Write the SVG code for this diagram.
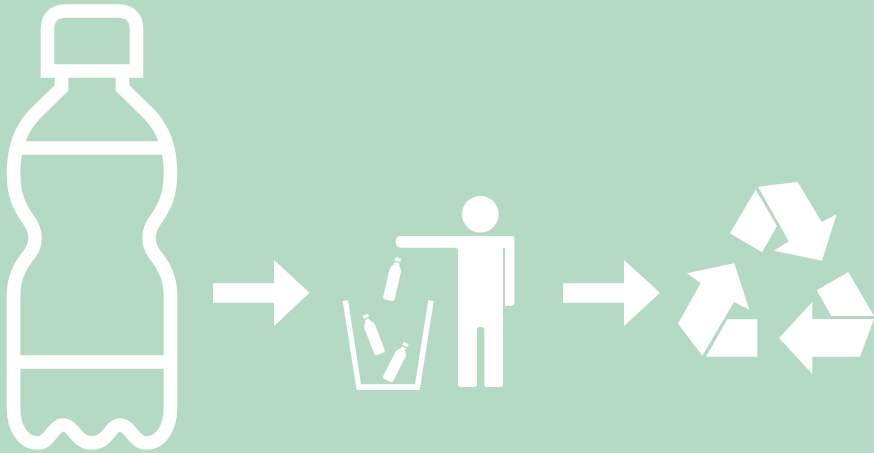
<svg xmlns="http://www.w3.org/2000/svg" width="874" height="453" viewBox="0 0 874 453">
<style>.s{fill:none;stroke:#fff;stroke-width:13.6}.f{fill:#fff}</style>
<defs><g id="b" class="f"><rect x="-2.8" y="-21" width="5.6" height="3.4" rx=".6"/><path d="M-2.2-16H2.2L2.6-13.5C5-11.5 5.6-9.5 5.6-7V18.5Q5.6 21 3 21H-3Q-5.6 21-5.6 18.5V-7C-5.6-9.5-5-11.5-2.6-13.5Z"/></g></defs>
<rect width="874" height="453" fill="#b5dac4"/>
<g id="bottle">
<path class="s" d="M61.5 71V88L34 115C20 130 13.5 150 13.5 173C13.5 196 20 208 28 219C33 226 35 231 35 238C35 245 33 250 28 256C19 267 13.5 279 13.5 295V408C13.5 428 23 443 38 443C50 443 53 425 63 425C74 425 76 443 92 443C108 443 110 425 120 425C130 425 134 443 146 443C161 443 170.500 428 170.500 408V295C170.500 279 165 267 156 256C151 250 149 245 149 238C149 231 151 226 156 219C164 208 170.500 196 170.500 173C170.500 150 164 130 150 115L122.500 88V71"/>
<path class="s" d="M47.500 71V30Q47.500 11 66 11H118Q136.500 11 136.500 30V71Z"/>
<path class="s" d="M18 148H166M13.500 362H170.500"/>
</g>
<g id="connectors" class="f">
<path d="M213 283.300H274V260L309.500 292.800L274 326V302.700H213Z"/>
<path d="M563 283.300H624V260L660 292.800L624 326V302.700H563Z"/>
</g>
<g id="person" class="f">
<circle cx="480.300" cy="214.300" r="18.300"/>
<path d="M401 236H511.500Q514.500 236 514.500 239V302.500Q514.500 305.700 511.500 305.700H505V248H503V384Q503 387 500 387H487Q484.300 387 484.300 384V330Q484.300 326.700 480.700 326.700Q477 326.700 477 330V384Q477 387 474 387H461Q458 387 458 384V250.500Q458 247.700 455 247.700H401Q395.700 247.700 395.700 241.800Q395.700 236 401 236Z"/>
</g>
<g id="bin" class="f">
<path d="M342.700 301L348 300L361 384.300H415L428.300 300L433.700 301L419.700 390H356.700Z"/>
<use href="#b" transform="translate(393.300 279) rotate(13) scale(1.040)"/>
<use href="#b" transform="translate(372.700 334.300) rotate(-21)"/>
<use href="#b" transform="translate(396.700 361.700) rotate(27)"/>
</g>
<g id="recycle" class="f">
<path d="M758 186.700L797.700 182L821.700 222L836.700 214.300L822 260.700L774 250.700L788.700 241.300Z"/>
<path d="M755.700 189.700L777 226L762 252.300L730 233.300Z"/>
<path d="M734.300 263.300L749.300 309.700L734 302L702.300 355.700L678 323.700L700.700 283L686.700 273.300Z"/>
<path d="M727.300 319.300H757.300V356.700H706Z"/>
<path d="M812.300 302V319H874L860 356.700H812.300V374L779 338Z"/>
<path d="M848.300 272L874 316H831.300L816.700 290.300Z"/>
</g>
</svg>
